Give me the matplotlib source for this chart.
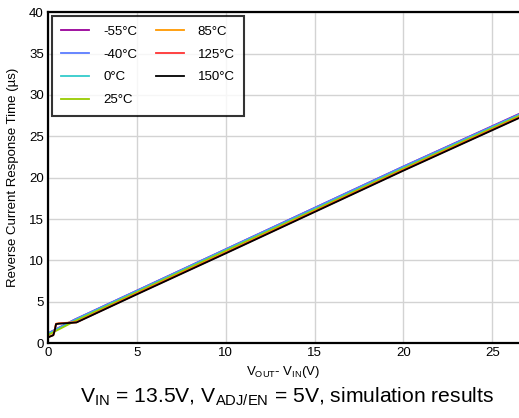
import matplotlib
matplotlib.use("Agg")
import matplotlib.pyplot as plt

plt.rcParams['font.family'] = ['Liberation Sans', 'DejaVu Sans']

labels = ["-55°C", "-40°C", "0°C", "25°C", "85°C", "125°C", "150°C"]
colors = ["#990099", "#5b7cff", "#33cccc", "#99cc00", "#ff9900", "#ff3333", "#000000"]

# Curves (x in V, y in µs)
x_low = [0.1, 1.5, 5, 10, 15, 20, 26.5]
y_m55 = [1.30, 2.85, 6.35, 11.35, 16.35, 21.35, 27.70]
y_m40 = [1.30, 2.85, 6.35, 11.35, 16.35, 21.35, 27.65]
y_0 = [1.20, 2.75, 6.25, 11.25, 16.20, 21.20, 27.55]
y_25 = [1.10, 2.65, 6.15, 11.15, 16.10, 21.10, 27.45]

x_hot = [0.07, 0.3, 0.38, 0.45, 0.6, 1.6, 5, 10, 15, 20, 26.5]
y_85 = [0.80, 1.00, 1.60, 2.35, 2.40, 2.55, 6.00, 10.95, 15.95, 20.95, 27.30]
y_125 = [0.78, 0.98, 1.58, 2.33, 2.38, 2.52, 5.95, 10.90, 15.90, 20.90, 27.25]
y_150 = [0.76, 0.96, 1.55, 2.30, 2.35, 2.50, 5.90, 10.85, 15.85, 20.85, 27.20]

series = [(x_low, y_m55), (x_low, y_m40), (x_low, y_0), (x_low, y_25),
          (x_hot, y_85), (x_hot, y_125), (x_hot, y_150)]

fig = plt.figure(figsize=(5.19, 4.18), dpi=100)
ax = fig.add_axes([0.0925, 0.179, 0.9075, 0.792])

for (xs, ys), lab, c in zip(series, labels, colors):
    ax.plot(xs, ys, color=c, lw=1.3, label=lab)

ax.set_xlim(0, 26.5)
ax.set_ylim(0, 40)
ax.set_xticks([0, 5, 10, 15, 20, 25])
ax.set_yticks(range(0, 41, 5))
ax.grid(True, color="#d3d3d3", lw=1.0)
ax.set_axisbelow(True)
ax.tick_params(length=0, labelsize=9.5, pad=3)
for s in ["left", "bottom", "top"]:
    ax.spines[s].set_linewidth(1.6)
ax.spines["right"].set_visible(False)

ax.set_ylabel("Reverse Current Response Time (µs)", fontsize=9.5, labelpad=7)
ax.set_xlabel(r"V$_{\mathregular{OUT}}$- V$_{\mathregular{IN}}$(V)", fontsize=9.5, labelpad=3)

leg = ax.legend(ncol=2, loc="upper left", fontsize=9.5, frameon=True, fancybox=False,
                borderaxespad=0.3, handlelength=2.1, columnspacing=1.45,
                labelspacing=0.8, handletextpad=1.05, borderpad=0.72)
leg.get_frame().set_edgecolor("black")
leg.get_frame().set_linewidth(1.5)

fig.text(0.554, 0.05, r"V$_{\mathregular{IN}}$ = 13.5V, V$_{\mathregular{ADJ/EN}}$ = 5V, simulation results",
         ha="center", va="center", fontsize=15.2)

fig.savefig("out.png", dpi=100)
